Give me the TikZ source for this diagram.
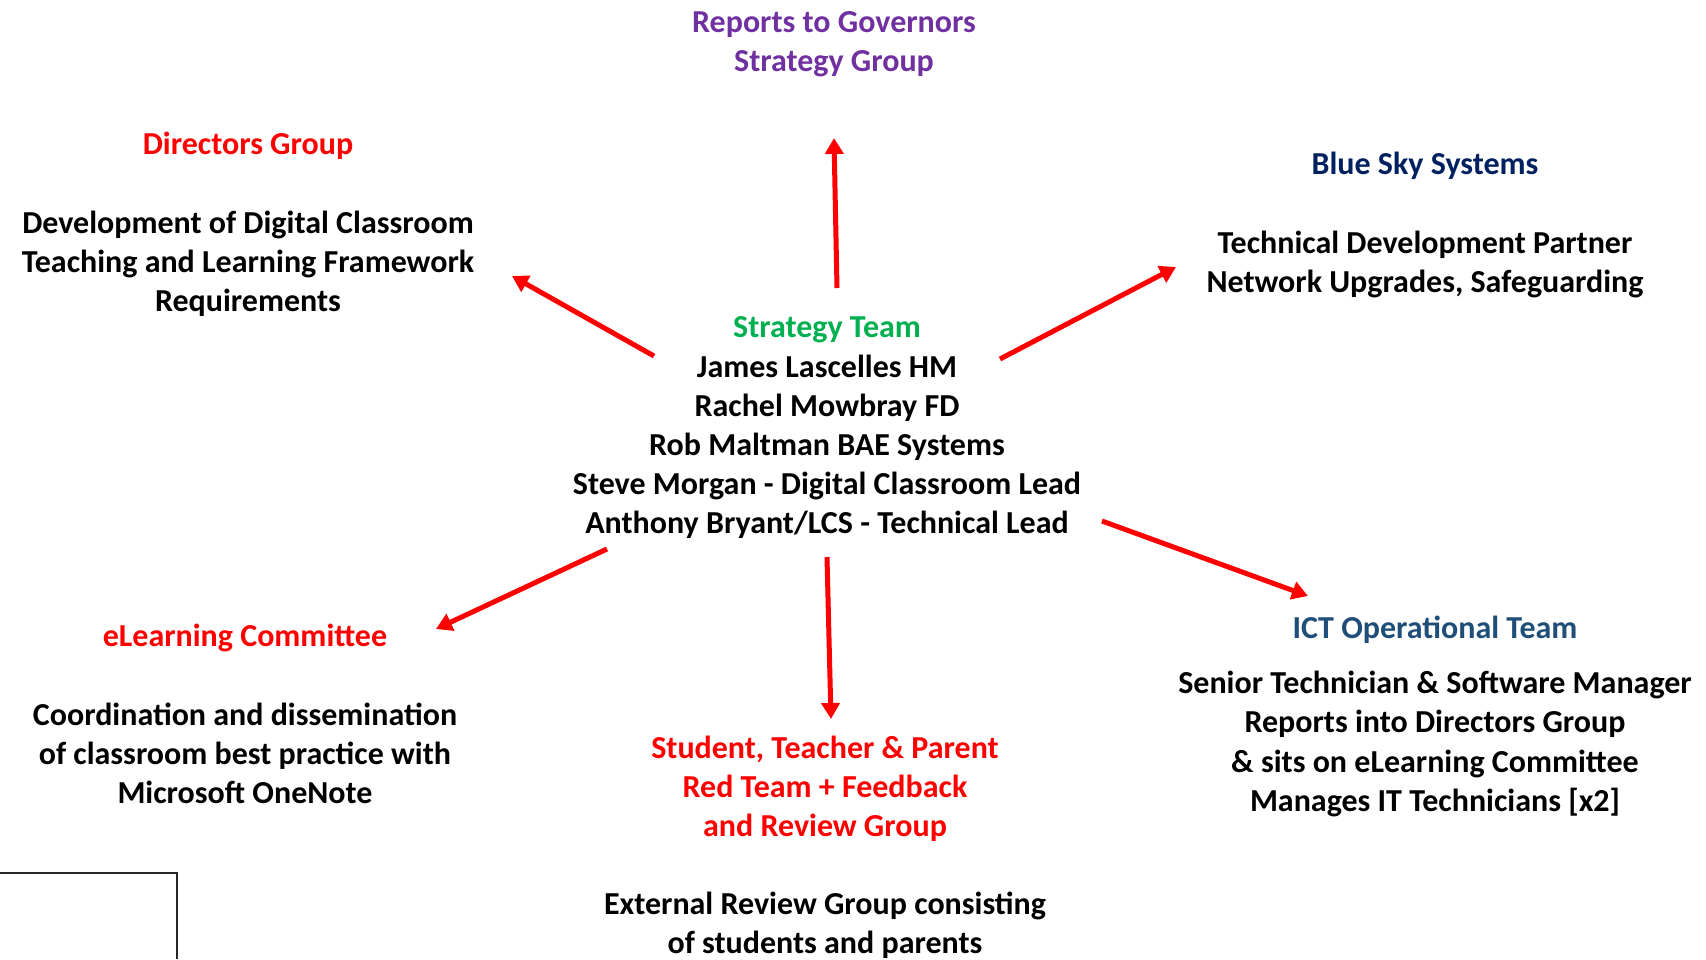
\documentclass[tikz,border=0pt]{standalone}
\usepackage{fontspec}
\setmainfont{Carlito}
\usetikzlibrary{arrows.meta}
\definecolor{govpurple}{HTML}{7030A0}
\definecolor{teamgreen}{HTML}{00B050}
\definecolor{skynavy}{HTML}{002060}
\definecolor{ictblue}{HTML}{1F4E79}

\begin{document}
\begin{tikzpicture}[x=1pt,y=-1pt,
  txt/.style={align=center,inner sep=0pt,font=\fontsize{32}{39.2}\selectfont\bfseries},
  link/.style={draw=red,line width=5pt,-{Triangle[width=18pt,length=16pt]}}]
\useasboundingbox (0,0) rectangle (1706,959);
% headings and text blocks
\node[txt,text=govpurple] (gov) at (834,44.5) {Reports to Governors\\Strategy Group};
\node[txt,text=red] (dirhead) at (248,146) {Directors Group};
\node[txt] (dirbody) at (248,264) {Development of Digital Classroom\\Teaching and Learning Framework\\Requirements};
\node[txt,text=skynavy] (skyhead) at (1425,166) {Blue Sky Systems};
\node[txt] (skybody) at (1425,264.5) {Technical Development Partner\\Network Upgrades, Safeguarding};
\node[txt] (team) at (827,428) {\textcolor{teamgreen}{Strategy Team}\\James Lascelles HM\\Rachel Mowbray FD\\Rob Maltman BAE Systems\\Steve Morgan - Digital Classroom Lead\\Anthony Bryant/LCS - Technical Lead};
\node[txt,text=red] (elhead) at (245,638) {eLearning Committee};
\node[txt] (elbody) at (245,753.5) {Coordination and dissemination\\of classroom best practice with\\Microsoft OneNote};
\node[txt,text=red] (redteam) at (825,788.5) {Student, Teacher \& Parent\\Red Team + Feedback\\and Review Group};
\node[txt] (ext) at (825,925) {External Review Group consisting\\of students and parents};
\node[txt,text=ictblue] (icthead) at (1435,630) {ICT Operational Team};
\node[txt] (ictbody) at (1435,744) {Senior Technician \& Software Manager\\Reports into Directors Group\\\& sits on eLearning Committee\\Manages IT Technicians [x2]};
% arrow ends
\coordinate (upS) at (837,288);   \coordinate (upE) at (834,138);
\coordinate (dirS) at (654,356);  \coordinate (dirE) at (512,276);
\coordinate (skyS) at (1000,359); \coordinate (skyE) at (1176,267);
\coordinate (elS) at (607,549);   \coordinate (elE) at (436,629);
\coordinate (dnS) at (827,557);   \coordinate (dnE) at (831,719);
\coordinate (ictS) at (1102,521); \coordinate (ictE) at (1308,596);
\draw[link] (upS) -- (upE);
\draw[link] (dirS) -- (dirE);
\draw[link] (skyS) -- (skyE);
\draw[link] (elS) -- (elE);
\draw[link] (dnS) -- (dnE);
\draw[link] (ictS) -- (ictE);
% box corner bottom left
\draw[line width=1.2pt,black!85] (0,873) -- (177,873) -- (177,959);
\end{tikzpicture}
\end{document}
